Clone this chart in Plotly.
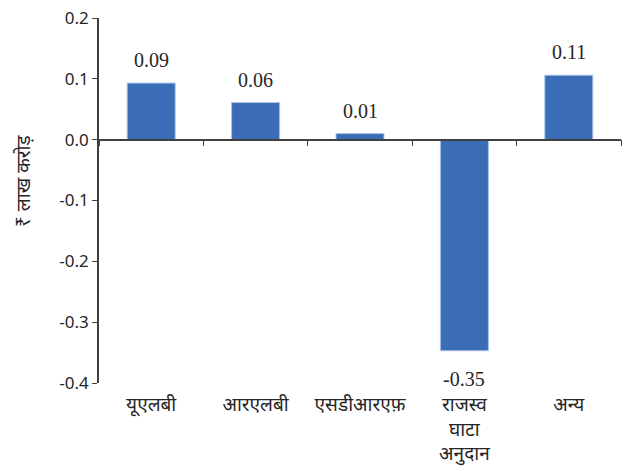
import plotly.graph_objects as go

# Categories and values (₹ lakh crore)
categories = ["यूएलबी", "आरएलबी", "एसडीआरएफ़", "राजस्व<br>घाटा<br>अनुदान", "अन्य"]
values = [0.093, 0.061, 0.010, -0.347, 0.106]
y_ticks = [0.2, 0.1, 0.0, -0.1, -0.2, -0.3, -0.4]
y_tick_text = ["0.2", "0.1", "0.0", "-0.1", "-0.2", "-0.3", "-0.4"]
y_title = "₹ लाख करोड़"

BAR = "#3A6DB5"
INK = "#262626"
AXIS = "#404040"

fig = go.Figure()
fig.add_trace(go.Bar(
    x=list(range(len(categories))),
    y=values,
    width=0.46,
    marker=dict(color=BAR, line=dict(color="#A9C4E8", width=1)),
    hoverinfo="skip",
))

# Value labels above positive bars, below negative ones
for i, v in enumerate(values):
    fig.add_annotation(
        x=i, y=v, xref="x", yref="y",
        text=f"{v:.2f}", showarrow=False,
        yanchor="middle",
        yshift=23 if v >= 0 else -28,
        font=dict(family="Liberation Serif", size=20, color=INK),
    )

# Rotated y-axis title, placed left of the tick labels
fig.add_annotation(
    x=-0.146, y=0.553, xref="paper", yref="paper", text=y_title,
    showarrow=False, textangle=-90, xanchor="center", yanchor="middle",
    font=dict(family="Noto Sans", size=19, color=INK),
)

fig.update_layout(
    width=634, height=471,
    margin=dict(l=99, r=13, t=18, b=88, autoexpand=False),
    paper_bgcolor="white", plot_bgcolor="white",
    showlegend=False,
    xaxis=dict(
        range=[-0.5, len(categories) - 0.5],
        tickvals=list(range(len(categories))),
        ticktext=categories,
        ticks="", showline=False, showgrid=False, zeroline=False,
        ticklabelstandoff=8, automargin=False,
        tickfont=dict(family="Noto Sans", size=19, color=INK),
    ),
    xaxis2=dict(
        overlaying="x", anchor="free", position=0.4 / 0.6,
        range=[-0.5, len(categories) - 0.5],
        tickvals=[i - 0.5 for i in range(len(categories) + 1)],
        showticklabels=False, ticks="outside", ticklen=6,
        tickcolor=AXIS, showline=True, linecolor=AXIS, linewidth=1.5,
        showgrid=False, zeroline=False, automargin=False,
    ),
    yaxis=dict(
        range=[-0.4, 0.2],
        tickvals=y_ticks, ticktext=y_tick_text,
        ticks="outside", ticklen=5, tickcolor=AXIS,
        showline=True, linecolor=AXIS, linewidth=1.5,
        showgrid=False, zeroline=False, automargin=False,
        tickfont=dict(family="Noto Sans", size=17, color=INK),
    ),
)

# Invisible trace so the zero-line axis is rendered
fig.add_trace(go.Scatter(x=[0], y=[0], xaxis="x2", mode="markers",
                         marker=dict(opacity=0), hoverinfo="skip"))

fig.write_html("out.html")
